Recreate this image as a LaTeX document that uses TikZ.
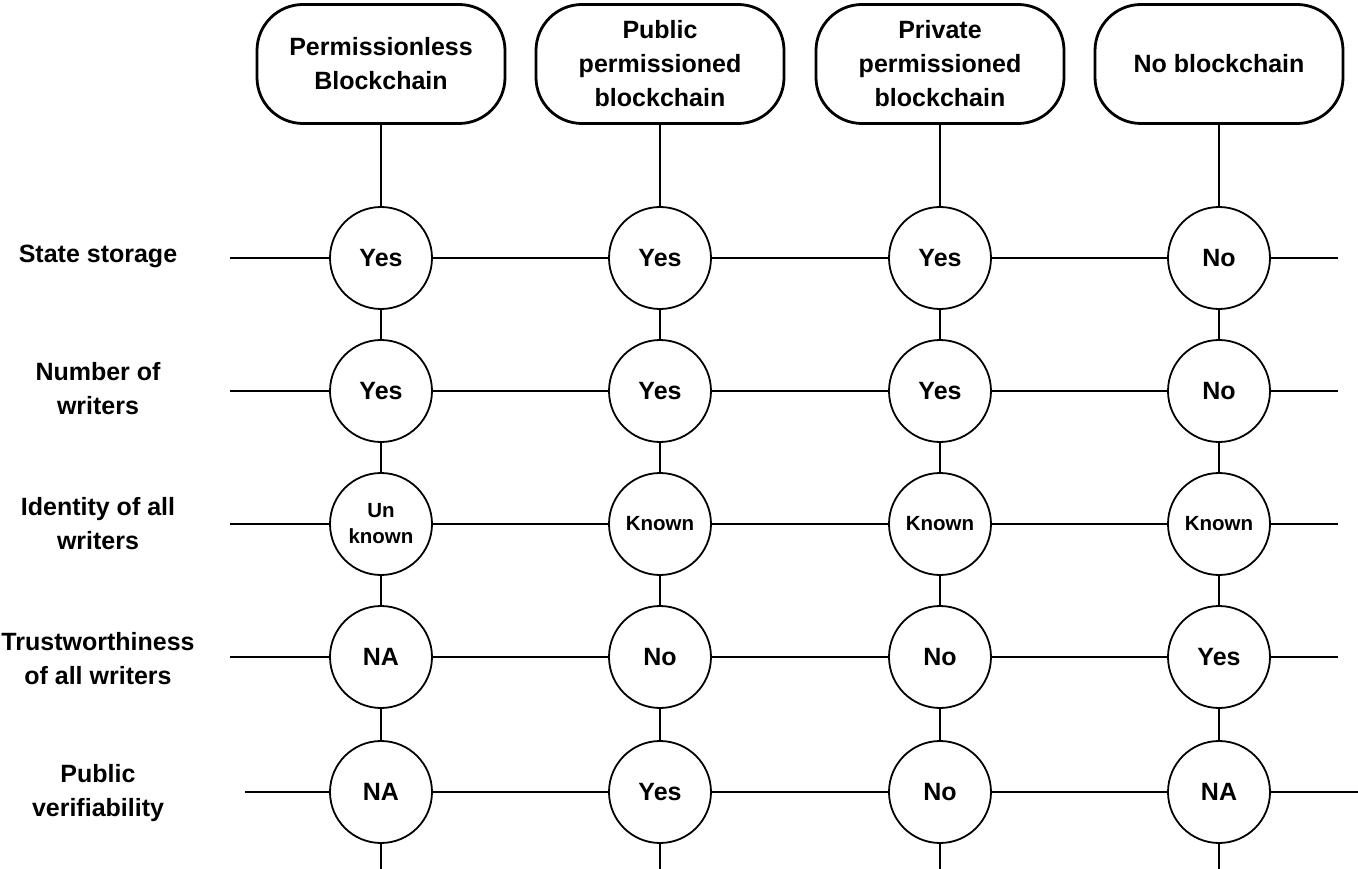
\documentclass[tikz,border=0pt]{standalone}
\usepackage{fontspec}
\setmainfont{Liberation Sans}
\begin{document}
\begin{tikzpicture}[x=1pt,y=-1pt,
  line width=2.8pt,
  hdr/.style={draw, line width=2.8pt, rounded corners=46pt, minimum width=248pt, minimum height=119pt, align=center, inner sep=2pt,
    font=\fontsize{25}{34}\selectfont\bfseries},
  val/.style={draw, circle, line width=1.8pt, minimum size=102pt, inner sep=0pt, align=center, fill=white,
    font=\fontsize{25}{30}\selectfont\bfseries},
  sval/.style={val, font=\fontsize{20.5}{26}\selectfont\bfseries},
  lbl/.style={align=center, font=\fontsize{25}{34}\selectfont\bfseries}]
\useasboundingbox (0,0) rectangle (1358,869);
% headers
\node[hdr] (h1) at (381,64) {Permissionless\\Blockchain};
\node[hdr] (h2) at (660,64) {Public\\permissioned\\blockchain};
\node[hdr] (h3) at (940,64) {Private\\permissioned\\blockchain};
\node[hdr] (h4) at (1219,64) {No blockchain};
% row labels
\node[lbl] (l1) at (98,256) {State storage};
\node[lbl] (l2) at (98,389) {Number of\\writers};
\node[lbl] (l3) at (98,524) {Identity of all\\writers};
\node[lbl] (l4) at (98,659) {Trustworthiness\\of all writers};
\node[lbl] (l5) at (98,793) {Public\\verifiability};
% values
\node[val] (c11) at (381,258) {Yes};
\node[val] (c12) at (660,258) {Yes};
\node[val] (c13) at (940,258) {Yes};
\node[val] (c14) at (1219,258) {No};
\node[val] (c21) at (381,391) {Yes};
\node[val] (c22) at (660,391) {Yes};
\node[val] (c23) at (940,391) {Yes};
\node[val] (c24) at (1219,391) {No};
\node[sval] (c31) at (381,524) {Un\\known};
\node[sval] (c32) at (660,524) {Known};
\node[sval] (c33) at (940,524) {Known};
\node[sval] (c34) at (1219,524) {Known};
\node[val] (c41) at (381,657) {NA};
\node[val] (c42) at (660,657) {No};
\node[val] (c43) at (940,657) {No};
\node[val] (c44) at (1219,657) {Yes};
\node[val] (c51) at (381,792) {NA};
\node[val] (c52) at (660,792) {Yes};
\node[val] (c53) at (940,792) {No};
\node[val] (c54) at (1219,792) {NA};
% free ends
\coordinate (a1) at (230,258); \coordinate (b1) at (1338,258);
\coordinate (a2) at (230,391); \coordinate (b2) at (1338,391);
\coordinate (a3) at (230,524); \coordinate (b3) at (1338,524);
\coordinate (a4) at (230,657); \coordinate (b4) at (1338,657);
\coordinate (a5) at (245,792); \coordinate (b5) at (1358,792);
\coordinate (e1) at (381,869); \coordinate (e2) at (660,869);
\coordinate (e3) at (940,869); \coordinate (e4) at (1219,869);
% horizontal connectors
\foreach \r in {1,...,5}{
  \draw (a\r) -- (c\r1.west);
  \draw (c\r1.east) -- (c\r2.west);
  \draw (c\r2.east) -- (c\r3.west);
  \draw (c\r3.east) -- (c\r4.west);
  \draw (c\r4.east) -- (b\r);
}
% vertical connectors
\foreach \c in {1,...,4}{
  \draw (h\c.south) -- (c1\c.north);
  \draw (c1\c.south) -- (c2\c.north);
  \draw (c2\c.south) -- (c3\c.north);
  \draw (c3\c.south) -- (c4\c.north);
  \draw (c4\c.south) -- (c5\c.north);
  \draw (c5\c.south) -- (e\c);
}
\end{tikzpicture}
\end{document}
